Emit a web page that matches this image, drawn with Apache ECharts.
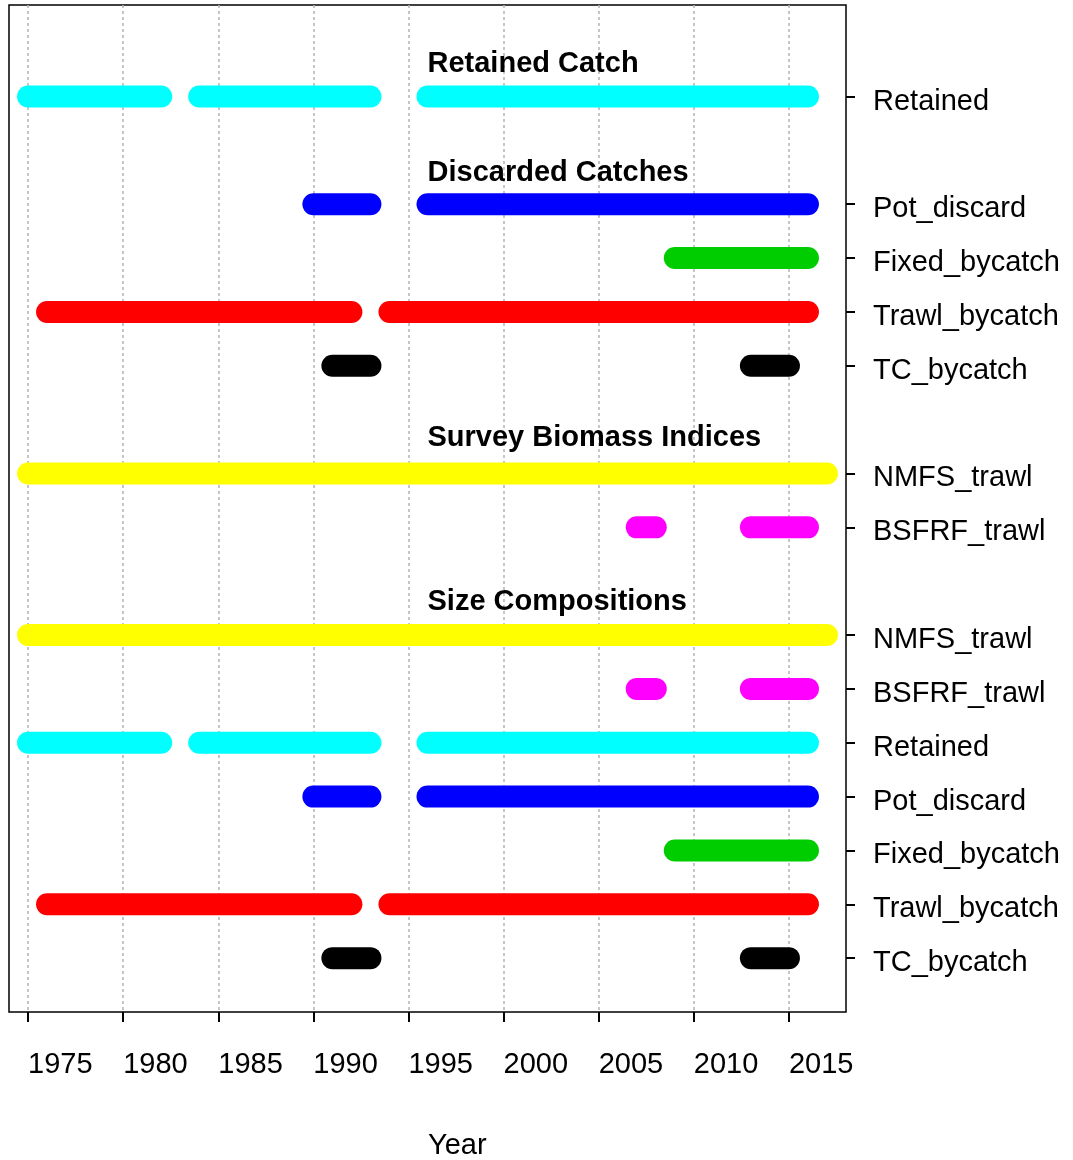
<!DOCTYPE html>
<html>
<head>
<meta charset="utf-8">
<script src="https://cdn.jsdelivr.net/npm/echarts@6/dist/echarts.min.js"></script>
<style>
    html, body { margin: 0; padding: 0; background: #fff; }
    #box1 { width: 1073px; height: 1160px; }
</style>
</head>
<body>
<div id="box1"></div>
<script>
// data years (start, end) for each row of the chart
var retainedCatch = [[1975, 1982], [1984, 1993], [1996, 2016]];
var potDiscard = [[1990, 1993], [1996, 2016]];
var fixedBycatch = [[2009, 2016]];
var trawlBycatch = [[1976, 1992], [1994, 2016]];
var tcBycatch = [[1991, 1993], [2013, 2015]];
var nmfsTrawl = [[1975, 2017]];
var bsfrfTrawl = [[2007, 2008], [2013, 2016]];

// rows, bottom to top
var rowNames = ['TC_bycatch', 'Trawl_bycatch', 'Fixed_bycatch', 'Pot_discard', 'Retained', 'BSFRF_trawl', 'NMFS_trawl',
    'BSFRF_trawl', 'NMFS_trawl', 'TC_bycatch', 'Trawl_bycatch', 'Fixed_bycatch', 'Pot_discard', 'Retained'];
var rowValues = [1, 2, 3, 4, 5, 6, 7, 9, 10, 12, 13, 14, 15, 17];
var rowData = [tcBycatch, trawlBycatch, fixedBycatch, potDiscard, retainedCatch, bsfrfTrawl, nmfsTrawl,
    bsfrfTrawl, nmfsTrawl, tcBycatch, trawlBycatch, fixedBycatch, potDiscard, retainedCatch];
var rowColors = ['#000000', '#ff0000', '#00cd00', '#0000ff', '#00ffff', '#ff00ff', '#ffff00',
    '#ff00ff', '#ffff00', '#000000', '#ff0000', '#00cd00', '#0000ff', '#00ffff'];

// section headings
var headings = ['Retained Catch', 'Discarded Catches', 'Survey Biomass Indices', 'Size Compositions'];
var headingRows = [17.6, 15.58, 10.65, 7.62];
var headingYear = 1996;

var tickYears = [1975, 1980, 1985, 1990, 1995, 2000, 2005, 2010, 2015];

var font = "'Liberation Sans', Arial, sans-serif";

var series = [];
rowData.forEach(function (segs, i) {
    segs.forEach(function (s) {
        series.push({
            type: 'line',
            data: [[s[0], rowValues[i]], [s[1], rowValues[i]]],
            symbol: 'none',
            silent: true,
            lineStyle: { color: rowColors[i], width: 22, cap: 'round' }
        });
    });
});

series.push({
    type: 'scatter',
    symbolSize: 0,
    silent: true,
    itemStyle: { opacity: 1 },
    data: headings.map(function (h, i) { return [headingYear, headingRows[i], h]; }),
    label: {
        show: true,
        position: 'right',
        distance: 0,
        opacity: 1,
        formatter: function (p) { return p.data[2]; },
        color: '#000',
        fontFamily: font,
        fontWeight: 'bold',
        fontSize: 29
    }
});

var chart = echarts.init(document.getElementById('box1'));
var option = {
    animation: false,
    backgroundColor: '#fff',
    title: {
        text: 'Year',
        left: 428,
        top: 1131,
        padding: 0,
        textStyle: { fontFamily: font, fontSize: 29, fontWeight: 'normal', color: '#000' }
    },
    grid: {
        left: 9, top: 5, width: 837, height: 1007,
        show: true, borderColor: '#000', borderWidth: 1.5, backgroundColor: 'transparent'
    },
    xAxis: {
        type: 'value',
        min: 1974,
        max: 2018,
        axisLine: { show: false },
        axisTick: { show: true, length: 10, customValues: tickYears, lineStyle: { color: '#000', width: 2 } },
        axisLabel: {
            customValues: tickYears,
            align: 'left',
            margin: 38,
            fontFamily: font,
            fontSize: 29,
            color: '#000',
            formatter: function (v) { return String(v); }
        },
        splitLine: { show: true, lineStyle: { color: '#b4b4b4', width: 1.5, type: [3, 3] } }
    },
    yAxis: {
        type: 'value',
        position: 'right',
        min: 0,
        max: 18.7,
        axisLine: { show: false },
        axisTick: { show: true, length: 9, customValues: rowValues, lineStyle: { color: '#000', width: 2 } },
        axisLabel: {
            customValues: rowValues,
            margin: 27,
            verticalAlign: 'top',
            lineHeight: 10,
            fontFamily: font,
            fontSize: 29,
            color: '#000',
            formatter: function (v) { return rowNames[rowValues.indexOf(v)]; }
        },
        splitLine: { show: false }
    },
    series: series
};
chart.setOption(option);
</script>
</body>
</html>
